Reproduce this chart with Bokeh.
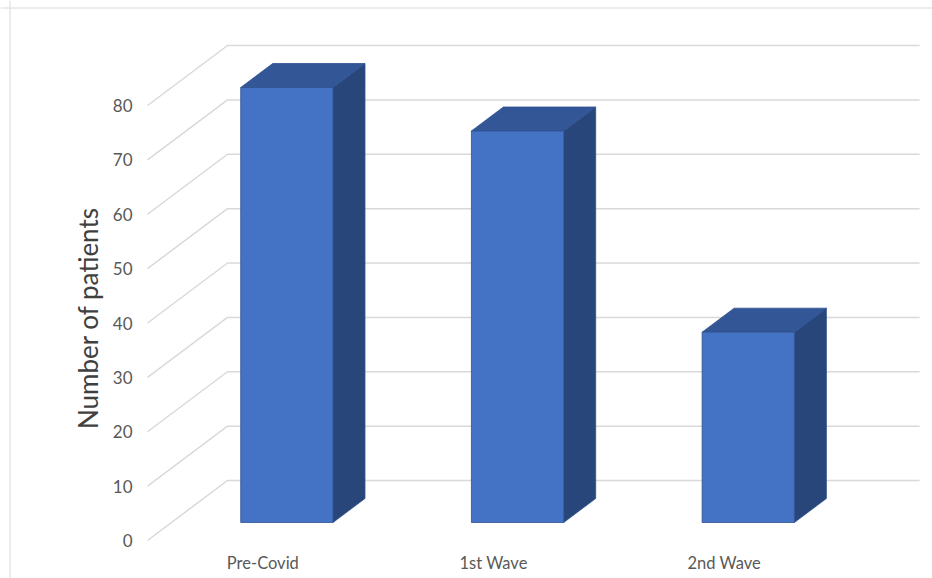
import math
from bokeh.plotting import figure
from bokeh.models import Range1d, Span
from bokeh.core.properties import value
from bokeh.embed import file_html
from bokeh.resources import INLINE

# ---- data ----
categories = ["Pre-Covid", "1st Wave", "2nd Wave"]
patients = [80, 72, 35]
tick_values = [0, 10, 20, 30, 40, 50, 60, 70, 80]
tick_labels = ["0", "10", "20", "30", "40", "50", "60", "70", "80"]
y_title = "Number of patients"

# ---- geometry (layout constants) ----
PX_X = 230.7      # px per category unit
PX_Y = 5.4375     # px per value unit
W, H = 932, 578
FRONT_LEFT_PX = 147       # front plane left edge within figure
FRONT_ZERO_PX = 540       # front plane zero within figure
DX = 80 / PX_X            # depth offset of back wall (x, category units)
DY = 60 / PX_Y            # depth offset of back wall (y, value units)
BAR_F0, BAR_F1 = 0.3, 0.7 # bar depth span (fraction)
BAR_HALF = 0.2

x0 = -0.5 - FRONT_LEFT_PX / PX_X
x1 = -0.5 + (W - FRONT_LEFT_PX) / PX_X
y0 = -(H - FRONT_ZERO_PX) / PX_Y
y1 = FRONT_ZERO_PX / PX_Y

p = figure(width=W, height=H, x_range=Range1d(x0, x1), y_range=Range1d(y0, y1),
           output_backend="svg", toolbar_location=None, min_border=0,
           x_axis_location=None, y_axis_location=None)
p.grid.visible = False
p.outline_line_color = None
p.background_fill_color = "white"
p.border_fill_color = "white"

# outer border (left and top)
p.add_layout(Span(location=x0 + 9.5 / PX_X, dimension="height", line_color="#d9d9d9", line_width=1))
p.add_layout(Span(location=y1 - 7.5 / PX_Y, dimension="width", line_color="#d9d9d9", line_width=1))

# gridlines: floor diagonal + back wall horizontal
n = len(categories)
gx, gy = [], []
for v in tick_values:
    gx.append([-0.5, -0.5 + DX, n - 0.5 + DX])
    gy.append([v, v + DY, v + DY])
p.multi_line(gx, gy, line_color="#d9d9d9", line_width=1.5)

# bars
fx0, fy0 = BAR_F0 * DX, BAR_F0 * DY
fx1, fy1 = BAR_F1 * DX, BAR_F1 * DY
front_x, front_y, top_x, top_y, side_x, side_y = [], [], [], [], [], []
for i, v in enumerate(patients):
    l, r = i - BAR_HALF, i + BAR_HALF
    front_x.append([l + fx0, r + fx0, r + fx0, l + fx0])
    front_y.append([fy0, fy0, v + fy0, v + fy0])
    top_x.append([l + fx0, r + fx0, r + fx1, l + fx1])
    top_y.append([v + fy0, v + fy0, v + fy1, v + fy1])
    side_x.append([r + fx0, r + fx1, r + fx1, r + fx0])
    side_y.append([fy0, fy1, v + fy1, v + fy0])

edge = "#2F528F"
p.patches(side_x, side_y, fill_color="#284679", line_color=edge, line_width=0.8)
p.patches(top_x, top_y, fill_color="#335696", line_color=edge, line_width=0.8)
p.patches(front_x, front_y, fill_color="#4472C4", line_color=edge, line_width=0.8)

# y tick labels at the front plane
p.text(x=[-0.5] * len(tick_values), y=tick_values, text=tick_labels,
       text_align="right", text_baseline="middle", x_offset=-15,
       text_font=value("Lato"), text_font_size="17px", text_color="#595959")

# category labels
p.text(x=list(range(n)), y=[0] * n, text=categories,
       text_align="center", text_baseline="middle", y_offset=22,
       text_font=value("Lato"), text_font_size="16.5px", text_color="#595959")

# y axis title
p.text(x=[-0.5], y=[40], text=[y_title], angle=math.pi / 2,
       text_align="center", text_baseline="middle", x_offset=-60, y_offset=-5,
       text_font=value("Lato"), text_font_size="26px", text_color="#404040")

open("out.html", "w").write(file_html(p, INLINE))
